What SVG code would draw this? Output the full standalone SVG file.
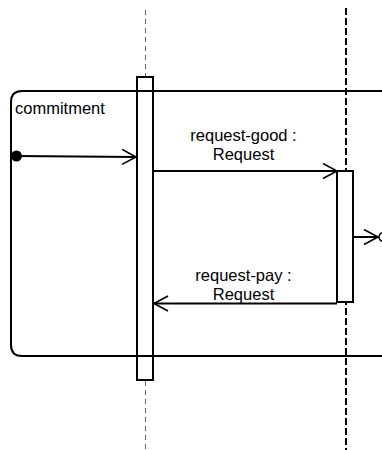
<svg xmlns="http://www.w3.org/2000/svg" width="382" height="450" viewBox="0 0 382 450">
  <style>
    .line { fill: none; stroke: #000; stroke-width: 2; }
    .box { fill: #fff; stroke: #000; stroke-width: 2; }
    .label { font-family: "Liberation Sans", Arial, sans-serif; font-size: 16.5px; fill: #000; }
    .mid { text-anchor: middle; }
    .head { fill: none; stroke: #000; stroke-width: 1.6; stroke-linejoin: miter; }
  </style>
  <defs>
    <marker id="open" markerWidth="18" markerHeight="18" refX="15" refY="8" orient="auto" markerUnits="userSpaceOnUse">
      <path class="head" d="M1,0.5 L15,8 L1,15.5"/>
    </marker>
  </defs>

  <rect width="382" height="450" fill="#fff"/>

  <!-- lifeline of the left participant -->
  <g id="lifeline-left">
    <line x1="145.5" y1="10" x2="145.5" y2="77" stroke="#666" stroke-width="1" stroke-dasharray="5,4"/>
    <line x1="145.5" y1="381" x2="145.5" y2="450" stroke="#666" stroke-width="1" stroke-dasharray="5,4"/>
  </g>

  <!-- lifeline of the right participant -->
  <g id="lifeline-right">
    <line x1="346" y1="8" x2="346" y2="450" stroke="#000" stroke-width="2" stroke-dasharray="7,3"/>
  </g>

  <!-- activation bars -->
  <g id="activation-left">
    <rect class="box" x="137" y="77" width="16" height="303" fill="none"/>
  </g>
  <g id="activation-right">
    <rect class="box" x="337" y="171" width="16" height="131"/>
  </g>

  <!-- commitment fragment -->
  <g id="commitment">
    <path class="line" d="M390,91 H22 Q11,91 11,102 V345 Q11,356 22,356 H390"/>
    <text class="label" x="15" y="114">commitment</text>
  </g>

  <!-- messages -->
  <g id="connectors">
    <circle cx="16.5" cy="156" r="5.5" fill="#000"/>
    <line class="line" x1="16" y1="156" x2="136" y2="157" marker-end="url(#open)"/>

    <line class="line" x1="153" y1="171" x2="337" y2="171" marker-end="url(#open)"/>
    <text class="label mid" x="243.5" y="141">request-good :</text>
    <text class="label mid" x="243.5" y="160">Request</text>

    <line class="line" x1="337" y1="303.5" x2="154" y2="303.5" marker-end="url(#open)"/>
    <text class="label mid" x="243.5" y="281">request-pay :</text>
    <text class="label mid" x="243.5" y="300">Request</text>

    <line class="line" x1="353" y1="237" x2="378" y2="237" marker-end="url(#open)"/>
    <circle cx="383.5" cy="237" r="4.5" fill="none" stroke="#000" stroke-width="1.5"/>
  </g>
</svg>
